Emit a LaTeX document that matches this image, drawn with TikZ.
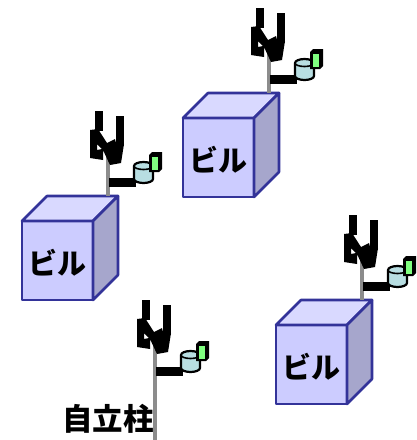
\documentclass[tikz,border=0pt]{standalone}
\usepackage{fontspec}
\newfontfamily\cjk{Noto Sans CJK JP Black}
\definecolor{wallfront}{RGB}{204,204,255}
\definecolor{walltop}{RGB}{217,217,255}
\definecolor{wallside}{RGB}{166,166,204}
\definecolor{walledge}{RGB}{51,51,153}
\definecolor{drumfill}{RGB}{184,222,226}
\definecolor{lampfill}{RGB}{128,255,128}
\def\xMax{417}
\def\yMax{440}
\tikzset{
  edgeline/.style={draw=walledge, line width=2.6pt, line join=round},
  mastline/.style={draw=gray!90, line width=4pt},
  tagtext/.style={font=\cjk\fontsize{29}{29}\selectfont, inner sep=0pt},
}
\begin{document}
\begin{tikzpicture}[x=1pt, y=-1pt]
      \useasboundingbox (0,0) rectangle (\xMax,\yMax);
      % buildings
      \foreach \bx/\by/\name in {183/118/a, 22/221/b, 276/325/c} {
        \begin{scope}[shift={(\bx,\by)}]
          \filldraw[edgeline, fill=wallfront] (0,0) rectangle (71,79);
          \filldraw[edgeline, fill=walltop] (0,0) -- (25,-25) -- (96,-25) -- (71,0) -- cycle;
          \filldraw[edgeline, fill=wallside] (71,0) -- (96,-25) -- (96,54) -- (71,79) -- cycle;
          \node[tagtext] (bldg\name) at (35,42) {ビル};
        \end{scope}
      }
      % antennas
      \foreach \mx/\my/\mlen in {269/0/93, 108/103/93, 362/207/93, 155/292/148} {
        \begin{scope}[shift={(\mx,\my)}]
          \draw[mastline] (0,50) -- (0,\mlen);
          \fill (-13,8) rectangle (-5,28);
          \fill (8,13) rectangle (16,43);
          \fill[even odd rule] (-18,27) -- (-10,26) -- (-1,40) -- (7,36) -- (8,40) -- (16,41)
            -- (13,60) -- (2,62) -- (-5,47) -- (-5,57) -- (-18,55) -- cycle
            (-11,41) -- (-11,47) -- (-6,46) -- cycle;
          \fill (1,75) rectangle (28,84);
          \filldraw[black, line width=2.2pt, fill=drumfill]
            (26,63) -- (26,76) arc[start angle=180, end angle=0, x radius=9.5, y radius=4]
            -- (45,63) arc[start angle=0, end angle=-180, x radius=9.5, y radius=4] -- cycle;
          \draw[line width=1.6pt] (26,63) arc[start angle=180, end angle=0, x radius=9.5, y radius=3.5];
          \fill[line join=round] (41,52) -- (44,49) -- (54,49) -- (54,66) -- (51,69) -- (41,69) -- cycle;
          \fill[lampfill] (44,54) rectangle (50,67);
        \end{scope}
      }
      \node[tagtext, font=\cjk\fontsize{30.5}{30.5}\selectfont, anchor=east] (selfpole) at (154,419) {自立柱};
    \end{tikzpicture}
\end{document}
